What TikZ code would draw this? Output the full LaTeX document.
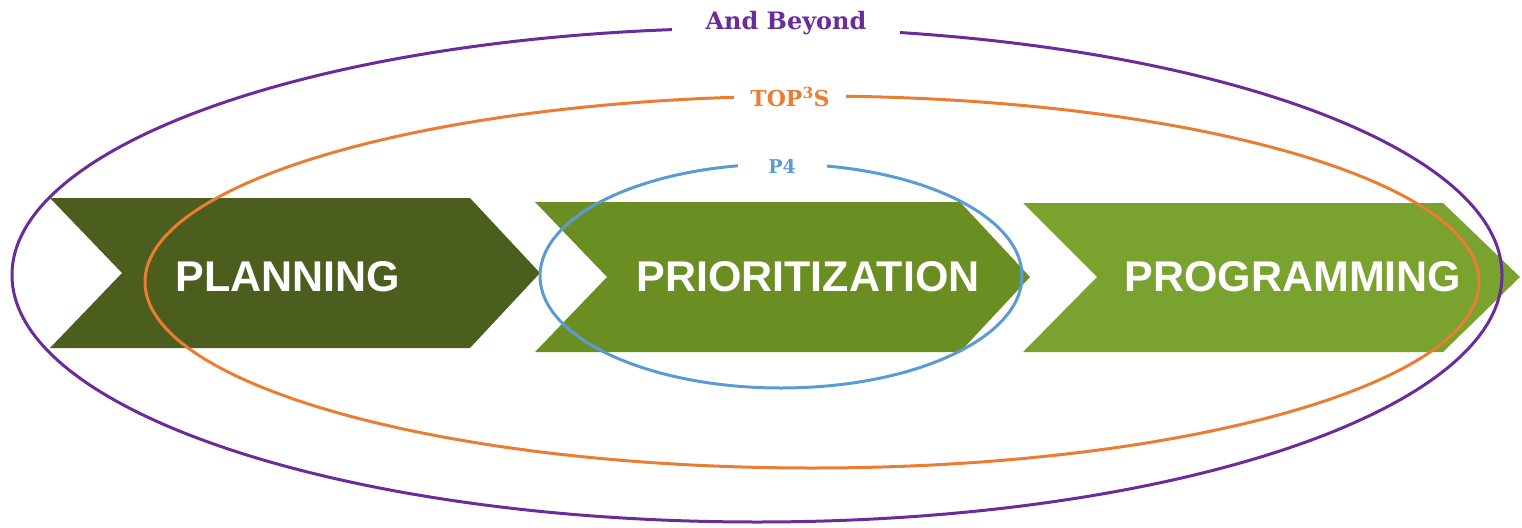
\documentclass[tikz,border=0pt]{standalone}
\usepackage{fontspec}
\setmainfont{Liberation Sans}
\newfontfamily\labelfont{DejaVu Serif}
\definecolor{chevA}{HTML}{4B5E1E}
\definecolor{chevB}{HTML}{6B8E23}
\definecolor{chevC}{HTML}{7AA22F}
\definecolor{purp}{HTML}{6A2C9A}
\definecolor{oran}{HTML}{EB7D32}
\definecolor{blu}{HTML}{5B9BD5}
\tikzset{
  chevtext/.style={text=white, font=\bfseries\fontsize{43}{43}\selectfont, inner sep=0pt},
  ring/.style={line width=3pt},
  ringlabel/.style={fill=white, inner sep=0pt, minimum height=18pt}
}
\begin{document}
\begin{tikzpicture}[x=1pt,y=-1pt]
\useasboundingbox (0,0) rectangle (1522,527);
% chevrons
\fill[chevA] (50,198) -- (470,198) -- (540,273) -- (470,348) -- (50,348) -- (122,273) -- cycle;
\fill[chevB] (535,202) -- (960,202) -- (1030,277) -- (960,352) -- (535,352) -- (607,277) -- cycle;
\fill[chevC] (1023,203) -- (1443,203) -- (1520,277) -- (1443,352) -- (1023,352) -- (1097,277) -- cycle;
\node[chevtext] (planning) at (288,276.5) {PLANNING};
\node[chevtext] (prior) at (808,277) {PRIORITIZATION};
\node[chevtext] (prog) at (1293,276.5) {PROGRAMMING};
% rings
\draw[ring, purp] (757,275) ellipse [x radius=745, y radius=247];
\draw[ring, oran] (812,282) ellipse [x radius=667, y radius=186];
\draw[ring, blu] (781,276) ellipse [x radius=241, y radius=112];
% labels
\node[ringlabel, text=purp, minimum width=228pt, font=\labelfont\bfseries\fontsize{24}{24}\selectfont] (beyond) at (786,23) {And Beyond};
\node[ringlabel, text=oran, minimum width=112pt, font=\labelfont\bfseries\fontsize{22}{22}\selectfont] (tops) at (790,97) {TOP\textsuperscript{3}S};
\node[ringlabel, text=blu, minimum width=89pt, font=\labelfont\bfseries\fontsize{19}{19}\selectfont] (p4) at (782,166) {P4};
\end{tikzpicture}
\end{document}
